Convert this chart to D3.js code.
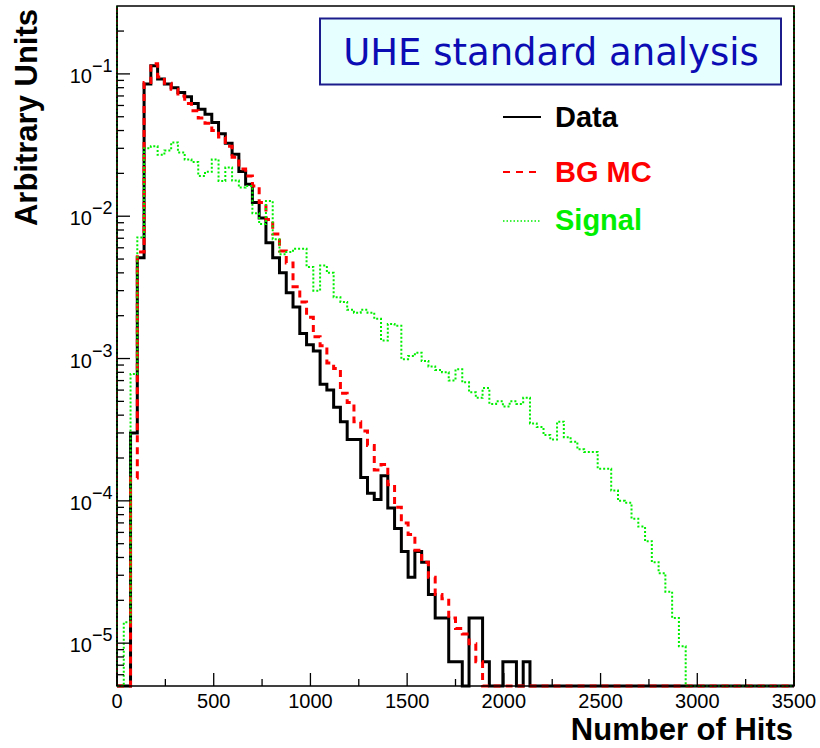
<!DOCTYPE html>
<html>
<head>
<meta charset="utf-8">
<script src="https://cdn.jsdelivr.net/npm/d3@7"></script>
<style>
  body { margin: 0; background: #fff; }
  svg { display: block; }
  text { font-family: "Liberation Sans", Arial, sans-serif; }
</style>
</head>
<body>
<div id="chart"></div>
<script>
// histogram binning (hits)
const binWidth = 35;
const nBins = 100;
const xDomain = [0, 3500];
const yDomain = [5e-6, 0.3];

// bin contents, bin 0 = [0,35) hits ; missing bins are empty
const dataValues = [
  0, 0, 3.0e-4, 5.1e-3, 0.085, 0.114, 0.092, 0.085, 0.080, 0.074,
  0.069, 0.062, 0.0565, 0.052, 0.0455, 0.038, 0.0325, 0.0272, 0.0206, 0.0168,
  0.0125, 0.0097, 0.0065, 0.0051, 0.0040, 0.0029, 0.0023, 0.0015, 0.00125, 0.00113,
  6.6e-4, 6.0e-4, 4.55e-4, 3.6e-4, 2.7e-4, 2.7e-4, 1.46e-4, 1.13e-4, 1.02e-4, 1.5e-4,
  8.9e-5, 6.4e-5, 4.4e-5, 2.9e-5, 4.4e-5, 3.7e-5, 2.2e-5, 1.5e-5, 1.5e-5, 7.4e-6,
  7.4e-6, 0, 1.5e-5, 1.5e-5, 7.4e-6, 0, 0, 7.4e-6, 7.4e-6, 0,
  7.4e-6
];
const bgValues = [
  0, 0, 1.45e-4, 5.6e-3, 0.087, 0.118, 0.095, 0.086, 0.078, 0.070,
  0.062, 0.055, 0.049, 0.045, 0.040, 0.036, 0.031, 0.026, 0.0215, 0.0192,
  0.0163, 0.0125, 0.0095, 0.0075, 0.0057, 0.0047, 0.0032, 0.0025, 0.00195, 0.00142,
  0.00123, 9.3e-4, 8.5e-4, 5.7e-4, 4.9e-4, 3.6e-4, 3.1e-4, 2.45e-4, 1.65e-4, 1.8e-4,
  1.3e-4, 9.0e-5, 7.0e-5, 5.8e-5, 4.5e-5, 3.7e-5, 2.9e-5, 2.2e-5, 2.05e-5, 1.5e-5,
  1.27e-5, 1.16e-5, 9.9e-6, 7.4e-6
];
const signalValues = [
  0, 1.4e-5, 7.8e-4, 7.1e-3, 0.030, 0.031, 0.027, 0.029, 0.033, 0.028,
  0.025, 0.024, 0.0192, 0.0205, 0.025, 0.0177, 0.022, 0.0178, 0.0159, 0.0163,
  0.0105, 0.0088, 0.0128, 0.0069, 0.0054, 0.0056, 0.0059, 0.0059, 0.0044, 0.0030,
  0.0045, 0.0040, 0.0027, 0.0025, 0.0022, 0.0021, 0.0022, 0.0021, 0.0019, 0.00134,
  0.00175, 0.0017, 9.9e-4, 1.04e-3, 1.1e-3, 9.6e-4, 8.8e-4, 8.3e-4, 8.0e-4, 7.0e-4,
  8.4e-4, 6.8e-4, 5.8e-4, 5.3e-4, 6.2e-4, 4.8e-4, 5.0e-4, 4.6e-4, 5.0e-4, 4.8e-4,
  5.3e-4, 3.5e-4, 3.3e-4, 2.9e-4, 2.7e-4, 3.6e-4, 2.8e-4, 2.6e-4, 2.3e-4, 2.2e-4,
  2.2e-4, 1.68e-4, 1.68e-4, 1.18e-4, 1.0e-4, 9.7e-5, 7.5e-5, 6.6e-5, 5.2e-5, 3.7e-5,
  3.1e-5, 2.3e-5, 1.5e-5, 9.5e-6
];

const xTicks = [0, 500, 1000, 1500, 2000, 2500, 3000, 3500];
const xMinorTicks = [250, 750, 1250, 1750, 2250, 2750, 3250];
const yDecades = [-1, -2, -3, -4, -5];
const seriesNames = ['Data', 'BG MC', 'Signal'];
const titleText = 'UHE standard analysis';
const xTitle = 'Number of Hits';
const yTitle = 'Arbitrary Units';

const width = 820, height = 748;
const margin = {left: 117, top: 6, right: 26, bottom: 62};
const plotW = width - margin.left - margin.right;
const plotH = height - margin.top - margin.bottom;

const svg = d3.select('#chart').append('svg')
  .attr('width', width)
  .attr('height', height);

const x = d3.scaleLinear().domain(xDomain).range([margin.left, margin.left + plotW]);
const y = d3.scaleLog().domain(yDomain).range([margin.top + plotH, margin.top]);
const bottom = margin.top + plotH;

// series styles
const styles = [
  {values: dataValues, color: '#000', width: 3, dash: null},
  {values: bgValues, color: '#ff0000', width: 3, dash: '7,5'},
  {values: signalValues, color: '#00ee00', width: 2, dash: '2,2'}
];

function stepPoints(values) {
  let pts = [];
  for (let i = 0; i < nBins; i++) {
    let v = values[i] || 0;
    let yy = v >= yDomain[0] ? y(v) : bottom;
    pts.push([x(i * binWidth), yy]);
  }
  let last = pts[pts.length - 1];
  pts.push([x(nBins * binWidth), last[1]]);
  return pts;
}

const line = d3.line().curve(d3.curveStepAfter);
const plot = svg.append('g');

// frame
svg.append('rect')
  .attr('x', margin.left).attr('y', margin.top)
  .attr('width', plotW).attr('height', plotH)
  .attr('fill', 'none').attr('stroke', '#000').attr('stroke-width', 1.5);

for (let s of styles) {
  let path = plot.append('path')
    .attr('d', line(stepPoints(s.values)))
    .attr('fill', 'none')
    .attr('stroke', s.color)
    .attr('stroke-width', s.width);
  if (s.dash) path.attr('stroke-dasharray', s.dash);

  // full-height lines on the range edges
  for (let edge of xDomain) {
    let l = plot.append('line')
      .attr('x1', x(edge)).attr('x2', x(edge))
      .attr('y1', margin.top).attr('y2', bottom)
      .attr('stroke', s.color)
      .attr('stroke-width', Math.min(s.width, 2));
    if (s.dash) l.attr('stroke-dasharray', s.dash);
  }
}

// x axis ticks (inside)
const axes = svg.append('g').attr('stroke', '#000').attr('stroke-width', 1.3);
axes.selectAll('line.xmaj').data(xTicks).join('line')
  .attr('x1', d => x(d)).attr('x2', d => x(d))
  .attr('y1', bottom).attr('y2', bottom - 13);
axes.selectAll('line.xmin').data(xMinorTicks).join('line')
  .attr('x1', d => x(d)).attr('x2', d => x(d))
  .attr('y1', bottom).attr('y2', bottom - 7);

svg.selectAll('text.xlab').data(xTicks).join('text')
  .attr('x', d => x(d)).attr('y', 708)
  .attr('text-anchor', 'middle')
  .attr('font-size', 20)
  .text(d => d);

// y axis ticks
let minorY = [];
for (let e = -6; e <= -1; e++) {
  for (let m = 2; m <= 9; m++) {
    let v = m * Math.pow(10, e);
    if (v > yDomain[0] && v < yDomain[1]) minorY.push(v);
  }
}
axes.selectAll('line.ymin').data(minorY).join('line')
  .attr('x1', margin.left).attr('x2', margin.left + 7)
  .attr('y1', d => y(d)).attr('y2', d => y(d));
axes.selectAll('line.ymaj').data(yDecades).join('line')
  .attr('x1', margin.left).attr('x2', margin.left + 13)
  .attr('y1', d => y(Math.pow(10, d))).attr('y2', d => y(Math.pow(10, d)));

const ylab = svg.selectAll('g.ylab').data(yDecades).join('g');
ylab.append('text')
  .attr('x', 92).attr('y', d => y(Math.pow(10, d)) + 9)
  .attr('text-anchor', 'end')
  .attr('font-size', 20)
  .text('10');
ylab.append('text')
  .attr('x', 92).attr('y', d => y(Math.pow(10, d)) - 2)
  .attr('font-size', 18)
  .text(d => '\u2212' + Math.abs(d));

// axis titles
svg.append('text')
  .attr('transform', 'translate(37,9) rotate(-90)')
  .attr('text-anchor', 'end')
  .attr('font-size', 31)
  .attr('font-weight', 'bold')
  .text(yTitle);
svg.append('text')
  .attr('x', 793).attr('y', 740)
  .attr('text-anchor', 'end')
  .attr('font-size', 31)
  .attr('font-weight', 'bold')
  .text(xTitle);

// title box
svg.append('rect')
  .attr('x', 320).attr('y', 18.5)
  .attr('width', 461).attr('height', 66)
  .attr('fill', '#e6ffff')
  .attr('stroke', '#1c1c8c').attr('stroke-width', 2);
svg.append('text')
  .attr('x', 551).attr('y', 65)
  .attr('text-anchor', 'middle')
  .style('font-family', '"DejaVu Sans", Verdana, sans-serif')
  .attr('font-size', 37)
  .attr('fill', '#0c0cb4')
  .text(titleText);

// legend
const legendY = [117, 172, 221];
const legendBase = [127, 182, 230];
const legend = svg.append('g');
seriesNames.forEach((name, i) => {
  let s = styles[i];
  let l = legend.append('line')
    .attr('x1', 503).attr('x2', 541)
    .attr('y1', legendY[i]).attr('y2', legendY[i])
    .attr('stroke', s.color)
    .attr('stroke-width', i == 2 ? 1.5 : 2);
  if (s.dash) l.attr('stroke-dasharray', i == 1 ? '7,6' : '1.5,2');
  legend.append('text')
    .attr('x', 555).attr('y', legendBase[i])
    .attr('font-size', 29)
    .attr('font-weight', 'bold')
    .attr('fill', s.color)
    .text(name);
});
</script>
</body>
</html>
